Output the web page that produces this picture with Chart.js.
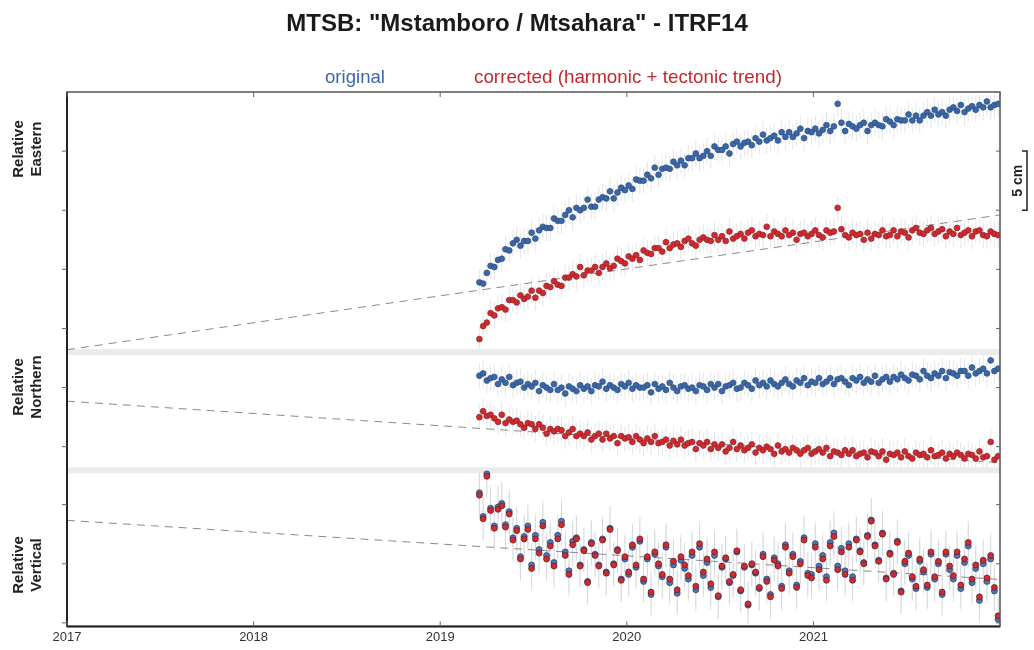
<!DOCTYPE html>
<html><head><meta charset="utf-8">
<script src="https://cdn.jsdelivr.net/npm/chart.js@4.4.1/dist/chart.umd.min.js"></script>
<style>html,body{margin:0;padding:0;background:#fff}#wrap{width:1034px;height:650px;position:relative}</style>
</head><body><div id="wrap"><canvas id="c" width="1034" height="650"></canvas></div>
<script>
// ---- data (decimal years, cm) ----
const dates = [
2019.21,2019.23,2019.25,2019.27,2019.29,2019.31,2019.33,2019.35,2019.37,2019.39,
2019.41,2019.43,2019.45,2019.47,2019.49,2019.51,2019.53,2019.55,2019.57,2019.59,
2019.61,2019.63,2019.65,2019.67,2019.69,2019.71,2019.73,2019.75,2019.77,2019.79,
2019.81,2019.83,2019.85,2019.87,2019.89,2019.91,2019.93,2019.95,2019.97,2019.99,
2020.01,2020.03,2020.05,2020.07,2020.09,2020.11,2020.13,2020.15,2020.17,2020.19,
2020.21,2020.23,2020.25,2020.27,2020.29,2020.31,2020.33,2020.35,2020.37,2020.39,
2020.41,2020.43,2020.45,2020.47,2020.49,2020.51,2020.53,2020.55,2020.57,2020.59,
2020.61,2020.63,2020.65,2020.67,2020.69,2020.71,2020.73,2020.75,2020.77,2020.79,
2020.81,2020.83,2020.85,2020.87,2020.89,2020.91,2020.93,2020.95,2020.97,2020.99,
2021.01,2021.03,2021.05,2021.07,2021.09,2021.11,2021.13,2021.15,2021.17,2021.19,
2021.21,2021.23,2021.25,2021.27,2021.29,2021.31,2021.33,2021.35,2021.37,2021.39,
2021.41,2021.43,2021.45,2021.47,2021.49,2021.51,2021.53,2021.55,2021.57,2021.59,
2021.61,2021.63,2021.65,2021.67,2021.69,2021.71,2021.73,2021.75,2021.77,2021.79,
2021.81,2021.83,2021.85,2021.87,2021.89,2021.91,2021.93,2021.95,2021.97,2021.99];

const eastOriginal = [
3.9,3.8,4.7,5.3,5.2,5.8,5.9,6.7,6.6,7.2,
7.5,7.0,7.4,7.4,8.1,7.6,8.3,8.6,8.5,8.5,
9.3,9.1,9.1,9.6,10.0,9.4,10.2,10.0,10.2,10.9,
10.3,10.3,10.9,11.1,11.0,11.6,11.0,11.5,11.9,11.7,
12.1,11.8,12.6,12.5,12.5,13.0,12.7,13.6,13.0,13.5,
13.6,13.5,14.1,13.8,14.2,13.8,14.4,14.4,14.8,14.4,
14.6,15.0,14.6,15.4,15.1,15.1,15.4,14.8,15.6,15.8,
15.4,15.7,15.8,15.5,16.1,15.8,16.4,15.9,16.1,16.3,
15.9,16.6,16.2,16.6,16.2,16.5,16.9,16.1,16.7,16.6,
16.9,16.5,16.8,17.2,16.7,17.1,19.0,17.4,16.7,17.3,
17.1,16.9,17.2,17.4,16.7,17.2,17.4,17.2,17.1,17.7,
17.5,17.2,17.7,17.6,17.6,18.1,17.6,18.0,17.6,18.0,
18.3,18.0,18.5,18.1,18.3,18.0,18.5,18.7,18.4,18.9,
18.3,18.6,18.8,18.5,18.9,18.7,19.2,18.7,18.9,19.0];

const eastCorrected = [
-0.9,0.2,0.5,1.3,1.1,1.7,1.8,1.6,2.4,2.4,
2.2,2.8,2.5,2.7,3.2,2.6,3.2,3.0,3.6,3.5,
4.0,3.7,3.6,4.3,4.3,4.6,4.4,5.2,4.5,4.9,
4.9,5.2,4.7,5.2,5.5,5.1,5.3,5.9,5.7,5.5,
6.1,5.9,6.2,5.8,6.6,6.4,6.3,6.8,6.8,6.5,
7.3,6.8,7.1,7.2,6.9,7.4,7.6,7.2,7.0,7.5,
7.7,7.5,7.4,7.9,7.5,7.8,7.4,8.2,7.6,7.8,
8.0,7.6,8.1,8.3,7.8,8.0,7.9,8.6,7.8,8.2,
8.0,7.8,8.3,7.9,8.1,7.5,8.0,8.1,7.8,8.0,
8.3,7.9,7.7,8.3,8.1,8.2,10.2,8.4,7.9,7.7,
8.1,7.9,8.0,7.5,8.1,7.6,8.0,7.9,8.3,7.8,
7.9,8.3,7.8,8.2,8.1,7.7,8.3,8.5,8.1,8.0,
8.3,8.5,8.0,8.2,8.4,7.8,8.2,8.0,8.5,7.9,
8.1,8.3,7.8,8.2,8.3,7.9,7.8,8.2,8.0,7.9];

const northOriginal = [
6.0,6.2,5.6,5.8,5.9,5.3,5.7,5.4,5.9,5.2,
5.4,5.5,5.0,5.3,5.1,5.4,4.7,5.2,5.0,4.8,
5.3,4.8,5.0,4.5,5.1,4.9,4.7,5.2,4.9,5.1,
4.7,5.2,5.1,5.5,4.9,5.2,5.0,4.8,5.3,5.1,
5.4,4.9,5.2,5.0,5.0,5.2,4.6,5.3,4.9,5.1,
4.8,5.4,5.0,4.7,5.1,5.2,4.9,5.0,4.7,5.2,
5.1,4.8,5.3,5.0,5.3,4.7,5.1,5.2,5.4,4.9,
5.0,5.4,5.2,4.9,5.6,5.2,5.4,5.1,5.6,5.3,
5.1,5.4,5.7,5.3,5.1,5.6,5.4,5.8,5.2,5.5,
5.4,5.8,5.3,5.5,5.8,5.3,5.7,5.8,5.5,5.2,
5.8,5.6,5.9,5.4,5.7,5.5,6.0,5.4,5.7,5.9,
5.5,5.9,5.7,6.1,5.8,5.6,6.1,6.0,5.7,6.4,
6.0,5.8,6.2,6.0,6.4,5.8,6.3,6.2,6.0,6.4,
6.4,6.0,6.7,6.2,6.4,6.6,6.2,7.3,6.4,6.6];

const northCorrected = [
2.5,3.0,2.6,2.7,2.4,2.1,2.7,2.0,2.3,2.1,
2.2,1.9,1.6,2.0,1.9,1.5,1.9,1.6,1.1,1.5,
1.3,1.5,1.4,0.9,1.2,1.5,0.9,1.1,0.9,1.2,
0.6,0.9,1.1,0.6,1.1,0.7,0.9,0.3,0.9,0.7,
0.8,0.4,0.9,0.6,0.3,0.7,0.4,0.9,0.3,0.4,
0.6,0.1,0.5,0.2,0.6,0.1,0.3,0.4,-0.2,0.3,
0.1,0.4,-0.2,0.2,-0.1,0.2,-0.4,-0.1,0.4,-0.2,
0.1,-0.3,-0.1,0.2,-0.5,-0.1,-0.3,0.0,-0.2,-0.6,
0.1,-0.4,-0.2,-0.5,-0.1,-0.3,-0.6,-0.3,-0.1,-0.6,
-0.4,-0.2,-0.5,-0.1,-0.8,-0.4,-0.5,-0.7,-0.3,-0.6,
-0.3,-0.8,-0.6,-0.5,-0.9,-0.4,-0.5,-0.8,-0.4,-1.1,
-0.6,-0.7,-0.5,-0.9,-0.4,-0.8,-1.0,-0.5,-0.7,-0.6,
-0.9,-0.3,-0.8,-0.7,-0.5,-1.0,-0.6,-0.8,-0.5,-0.7,
-1.0,-0.6,-0.7,-1.0,-0.4,-0.9,-0.8,0.4,-1.1,-0.8];

const verticalOriginal = [
6.0,4.0,7.6,4.7,3.2,4.8,5.1,3.3,4.4,2.2,
3.0,0.6,2.3,3.2,-0.1,2.4,1.2,3.5,0.7,1.8,
0.1,2.4,3.6,1.0,-0.6,1.9,2.2,-0.1,1.2,-1.5,
1.8,0.8,-0.1,2.1,-0.7,3.0,0.0,1.2,-1.3,0.4,
-0.9,1.4,-0.3,1.9,-1.5,0.4,-2.6,0.8,-0.2,-1.1,
1.4,-1.6,-0.1,-2.5,0.3,-0.4,-1.3,0.7,-2.2,1.4,
-1.0,0.1,-2.0,0.7,-2.8,-0.3,0.4,-1.6,-1.0,1.0,
-2.3,-0.3,-3.5,-0.1,-0.8,-2.1,0.8,-1.3,-2.6,0.5,
0.0,-1.9,1.6,-0.6,0.8,-1.8,0.2,2.2,-0.8,-0.9,
1.7,-0.2,0.7,-1.1,1.8,2.6,-0.2,1.3,-0.6,1.7,
-1.1,2.1,1.1,0.1,2.4,3.7,1.6,0.3,2.6,-1.2,
0.9,-0.8,1.9,-2.3,0.0,0.7,-1.3,-2.1,0.2,-0.7,
-2.0,0.8,-1.3,0.0,-2.6,0.8,-0.5,-1.3,0.7,-2.1,
0.1,1.5,-1.6,-0.4,-3.1,0.0,-1.5,0.4,-2.3,-4.7];

const verticalCorrected = [
5.8,3.8,7.4,4.5,3.0,4.6,4.9,3.1,4.2,2.0,
2.8,0.4,2.1,2.9,-0.4,2.1,0.9,3.2,0.4,1.5,
-0.2,2.1,3.3,0.7,-0.9,1.6,2.1,-0.2,1.1,-1.6,
1.7,0.7,-0.2,2.0,-0.8,2.9,-0.1,1.1,-1.4,0.6,
-0.7,1.6,-0.1,2.1,-1.3,0.6,-2.4,1.0,0.0,-0.9,
1.6,-1.3,0.2,-2.2,0.6,-0.1,-1.0,1.0,-1.9,1.7,
-0.7,0.4,-1.7,1.0,-2.7,-0.2,0.5,-1.5,-0.9,1.1,
-2.2,-0.2,-3.4,0.0,-0.7,-2.0,0.6,-1.5,-2.8,0.3,
-0.2,-2.1,1.4,-0.8,0.6,-2.0,0.0,2.0,-1.0,-1.2,
1.4,-0.5,0.4,-1.4,1.5,2.3,-0.5,1.0,-0.9,1.4,
-1.4,2.0,1.0,0.0,2.3,3.6,1.5,0.2,2.5,-1.3,
0.8,-0.9,1.8,-2.4,0.2,0.9,-1.1,-1.9,0.4,-0.5,
-1.8,1.0,-1.1,0.2,-2.4,1.0,-0.2,-1.0,1.0,-1.8,
0.4,1.8,-1.3,-0.1,-2.8,0.3,-1.2,0.7,-2.0,-4.4];

const trendYears = [2017, 2022];
const trendEast = [-1.8, 9.6];
const trendNorth = [3.85, -1.35];
const trendVertical = [3.67, -1.33];

const yearTicks = [2017, 2018, 2019, 2020, 2021, 2022];
const yearLabels = ['2017', '2018', '2019', '2020', '2021', ''];
const eastTicks = [0, 5, 10, 15];
const northTicks = [0, 5];
const verticalTicks = [-5, 0, 5];
const errEast = 1.1, errNorth = 1.1, errVertical = 1.9;
const scaleBar = [10, 15];

// ---- styles ----
const BLUE = '#3b67a6', BLUE_B = '#2a4c7e', RED = '#d02a2b', RED_B = '#8a2230';
const pts = ys => dates.map((d, i) => ({x: d, y: ys[i]}));
const trend = ys => trendYears.map((d, i) => ({x: d, y: ys[i]}));

function dots(data, axis, color, border, r, err, order) {
  return {data: pts(data), yAxisID: axis, backgroundColor: color, borderColor: border,
    borderWidth: 0.7, pointRadius: r, showLine: false, errBar: err, order};
}
function line(data, axis) {
  return {data: trend(data), yAxisID: axis, showLine: true, borderColor: '#8a8a8a', borderWidth: 1,
    borderDash: [8, 6], pointRadius: 0, order: 5};
}

const SANS = '"Liberation Sans", Arial, sans-serif';
function squeezed(c, text, x, y, px, targetW, weight) {
  c.save();
  c.font = `${weight} ${px}px ${SANS}`;
  const w = c.measureText(text).width;
  const k = Math.min(1, targetW / w);
  c.translate(x, y); c.scale(k, 1);
  c.fillText(text, 0, 0);
  c.restore();
}

const decor = {
  id: 'decor',
  beforeDraw(chart) {
    const c = chart.ctx; c.save(); c.fillStyle = '#fff'; c.fillRect(0, 0, chart.width, chart.height); c.restore();
  },
  beforeDatasetsDraw(chart) {
    const c = chart.ctx, a = chart.chartArea;
    c.save();
    c.fillStyle = '#ebebeb';
    [chart.scales.yE.bottom, chart.scales.yN.bottom].forEach(y => c.fillRect(a.left, y - 3, a.right - a.left, 6));
    chart.data.datasets.forEach((ds, di) => {
      if (!ds.errBar) return;
      const meta = chart.getDatasetMeta(di), s = chart.scales[ds.yAxisID];
      c.save();
      c.beginPath(); c.rect(a.left, s.top + 3, a.right - a.left, s.bottom - s.top - 6); c.clip();
      c.strokeStyle = 'rgba(185,188,198,0.38)'; c.lineWidth = 1;
      c.beginPath();
      meta.data.forEach((el, i) => {
        const v = ds.data[i].y;
        c.moveTo(el.x, s.getPixelForValue(v + ds.errBar));
        c.lineTo(el.x, s.getPixelForValue(v - ds.errBar));
      });
      c.stroke();
      c.restore();
    });
    c.restore();
  },
  afterDraw(chart) {
    const c = chart.ctx, a = chart.chartArea, x = chart.scales.x;
    c.save();
    c.strokeStyle = '#555'; c.lineWidth = 1.5;
    c.strokeRect(a.left, a.top, a.right - a.left, a.bottom - a.top);
    c.strokeStyle = '#222'; c.lineWidth = 2;
    c.beginPath(); c.moveTo(a.left, a.bottom); c.lineTo(a.right, a.bottom);
    c.moveTo(a.left, a.top); c.lineTo(a.left, a.bottom); c.stroke();
    c.strokeStyle = '#666'; c.lineWidth = 1;
    c.beginPath();
    yearTicks.forEach(v => {
      const px = x.getPixelForValue(v);
      c.moveTo(px, a.bottom); c.lineTo(px, a.bottom - 5);
      c.moveTo(px, a.top); c.lineTo(px, a.top + 5);
    });
    [['yE', eastTicks], ['yN', northTicks], ['yV', verticalTicks]].forEach(([id, t]) => {
      const s = chart.scales[id];
      t.forEach(v => {
        const py = s.getPixelForValue(v);
        c.moveTo(a.left, py); c.lineTo(a.left - 5, py);
        c.moveTo(a.right, py); c.lineTo(a.right - 4, py);
      });
    });
    c.stroke();
    // title + legend
    c.textAlign = 'center'; c.textBaseline = 'middle';
    c.fillStyle = '#1a1a1a';
    squeezed(c, 'MTSB: "Mstamboro / Mtsahara" - ITRF14', 517, 24, 24, 465, 'bold');
    c.fillStyle = '#3d69a6'; squeezed(c, 'original', 355, 78, 19, 60, 'normal');
    c.fillStyle = '#c4282c'; squeezed(c, 'corrected (harmonic + tectonic trend)', 628, 78, 19, 308, 'normal');
    // axis titles
    c.fillStyle = '#222';
    [['Relative', 'Eastern', 149], ['Relative', 'Northern', 387], ['Relative', 'Vertical', 565]].forEach(([l1, l2, cy]) => {
      c.font = `bold 15px ${SANS}`;
      c.save(); c.translate(19, cy); c.rotate(-Math.PI / 2); c.fillText(l1, 0, 0); c.restore();
      c.save(); c.translate(37, cy); c.rotate(-Math.PI / 2); c.fillText(l2, 0, 0); c.restore();
    });
    // 5 cm scale bar
    const sE = chart.scales.yE;
    const y1 = sE.getPixelForValue(scaleBar[1]), y2 = sE.getPixelForValue(scaleBar[0]);
    c.strokeStyle = '#222'; c.lineWidth = 1.5;
    c.beginPath(); c.moveTo(1022, y1); c.lineTo(1027, y1); c.lineTo(1027, y2); c.lineTo(1022, y2); c.stroke();
    c.save(); c.translate(1018, (y1 + y2) / 2); c.rotate(-Math.PI / 2);
    c.font = `bold 14px ${SANS}`; c.fillText('5 cm', 0, 0); c.restore();
    c.restore();
  }
};

const hiddenY = (min, max, w) => ({type: 'linear', display: false, position: 'left', stack: 'panels',
  stackWeight: w, min, max, grid: {display: false}});

new Chart(document.getElementById('c'), {
  type: 'scatter',
  data: {datasets: [
    line(trendEast, 'yE'), line(trendNorth, 'yN'), line(trendVertical, 'yV'),
    dots(eastOriginal, 'yE', BLUE, BLUE_B, 2.9, errEast, 2),
    dots(eastCorrected, 'yE', RED, RED_B, 2.9, errEast, 1),
    dots(northOriginal, 'yN', BLUE, BLUE_B, 2.9, errNorth, 2),
    dots(northCorrected, 'yN', RED, RED_B, 2.9, errNorth, 1),
    dots(verticalOriginal, 'yV', '#4a78b8', '#2c3350', 3, errVertical, 2),
    dots(verticalCorrected, 'yV', RED, '#4a2038', 3, errVertical, 1)
  ]},
  plugins: [decor],
  options: {
    responsive: false, animation: false, events: [],
    layout: {padding: {left: 67, right: 34, top: 92, bottom: 2}},
    plugins: {legend: {display: false}, tooltip: {enabled: false}, title: {display: false}},
    scales: {
      x: {type: 'linear', min: 2017, max: 2022,
        afterBuildTicks: s => { s.ticks = yearTicks.map(v => ({value: v})); },
        ticks: {callback: (v, i) => yearLabels[i], color: '#333', padding: 3,
          font: {size: 13, family: SANS}},
        grid: {display: false, drawTicks: false}, border: {display: false}},
      yV: hiddenY(-5.3, 7.9, 13.2),
      yN: hiddenY(-2.0, 8.0, 10.0),
      yE: hiddenY(-2.0, 20.0, 22.0)
    }
  }
});
</script></body></html>
